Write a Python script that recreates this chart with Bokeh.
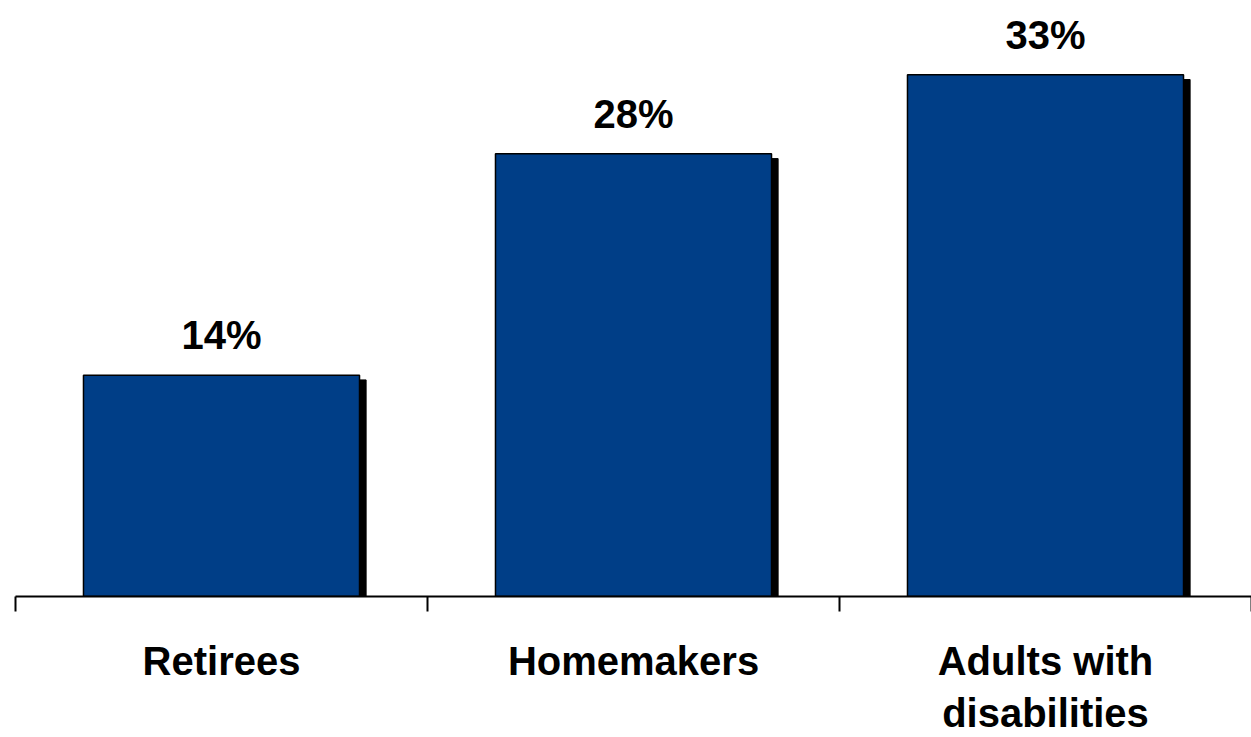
import numpy as np
from bokeh.plotting import figure
from bokeh.models import ColumnDataSource, FixedTicker, Range1d
from bokeh.core.properties import value
from bokeh.transform import dodge
from bokeh.embed import file_html
from bokeh.resources import INLINE

categories = ["Retirees", "Homemakers", "Adults with\ndisabilities"]
values = [14, 28, 33]
value_labels = ["14%", "28%", "33%"]

positions = np.arange(len(categories)) + 0.5
src = ColumnDataSource(dict(
    x=positions,
    top=values,
    shadow_top=[v - 0.3 for v in values],
    label=value_labels,
))

p = figure(width=1251, height=737, output_backend="svg", toolbar_location=None,
           x_range=Range1d(0, len(categories)), y_range=Range1d(0, 37.7),
           min_border_left=15, min_border_right=0, min_border_top=0, min_border_bottom=0)
p.outline_line_color = None
p.grid.visible = False
p.yaxis.visible = False
p.background_fill_color = "white"
p.border_fill_color = "white"

# shadow
p.vbar(x=dodge("x", 0.016, range=p.x_range), top="shadow_top", bottom=-0.15, width=0.67,
       source=src, fill_color="black", line_color="black")
# bars
p.vbar(x="x", top="top", bottom=0, width=0.67, source=src,
       fill_color="#003E87", line_color="black", line_width=1.5)

p.text(x="x", y="top", text="label", source=src, text_align="center",
       text_baseline="alphabetic", y_offset=-40, text_font_size="40px",
       text_font_style="bold", text_font=value("Liberation Sans"), text_color="black")

ax = p.xaxis[0]
ax.ticker = FixedTicker(ticks=list(positions), minor_ticks=list(range(len(categories) + 1)))
ax.major_label_overrides = {float(pos): c for pos, c in zip(positions, categories)}
ax.major_tick_out = 0
ax.major_tick_in = 0
ax.minor_tick_out = 15
ax.minor_tick_in = 0
ax.minor_tick_line_color = "black"
ax.minor_tick_line_width = 2
ax.axis_line_color = "black"
ax.axis_line_width = 2
ax.major_label_standoff = 27
ax.major_label_text_font = "Liberation Sans"
ax.major_label_text_font_style = "bold"
ax.major_label_text_font_size = "40px"
ax.major_label_text_color = "black"
ax.major_label_text_line_height = 1.19

open("out.html", "w").write(file_html(p, INLINE))
